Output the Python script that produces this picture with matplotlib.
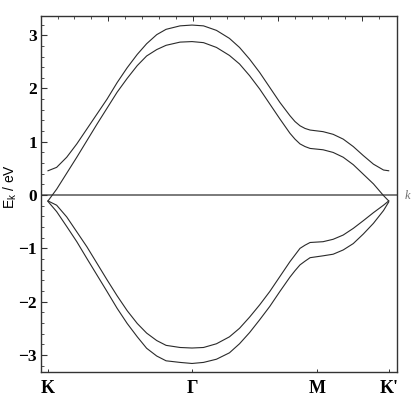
import matplotlib
matplotlib.use('Agg')
import matplotlib.pyplot as plt

# ---- data ----
k_points = [0.0, 0.06, 0.13, 0.20, 0.27, 0.34, 0.41, 0.48, 0.55, 0.62, 0.685, 0.755,
            0.82, 0.917, 1.0, 1.08, 1.17, 1.26, 1.33, 1.40, 1.47, 1.54, 1.61, 1.68,
            1.715, 1.75, 1.785, 1.82, 1.91, 1.98, 2.05, 2.12, 2.19, 2.26, 2.33, 2.366]
upper_outer = [0.456, 0.52, 0.71, 0.96, 1.24, 1.52, 1.80, 2.11, 2.39, 2.64, 2.84, 3.01,
               3.11, 3.175, 3.19, 3.175, 3.09, 2.94, 2.77, 2.55, 2.30, 2.02, 1.74, 1.49,
               1.38, 1.30, 1.25, 1.22, 1.19, 1.14, 1.05, 0.91, 0.74, 0.58, 0.47, 0.456]
upper_inner = [-0.11, 0.11, 0.41, 0.71, 1.02, 1.33, 1.63, 1.93, 2.19, 2.43, 2.61, 2.73,
               2.81, 2.87, 2.88, 2.86, 2.77, 2.62, 2.46, 2.24, 1.99, 1.71, 1.43, 1.16,
               1.05, 0.96, 0.91, 0.875, 0.85, 0.80, 0.71, 0.57, 0.39, 0.21, -0.01, -0.11]
lower_inner = [-0.11, -0.19, -0.41, -0.69, -0.97, -1.28, -1.59, -1.89, -2.17, -2.41, -2.59, -2.73,
               -2.82, -2.86, -2.87, -2.86, -2.79, -2.66, -2.50, -2.29, -2.06, -1.81, -1.53, -1.25,
               -1.125, -1.00, -0.94, -0.89, -0.875, -0.83, -0.75, -0.625, -0.48, -0.33, -0.19, -0.11]
lower_outer = [-0.12, -0.31, -0.59, -0.875, -1.19, -1.50, -1.81, -2.125, -2.41, -2.66, -2.875, -3.02,
               -3.11, -3.14, -3.16, -3.14, -3.08, -2.96, -2.79, -2.58, -2.34, -2.09, -1.81, -1.54,
               -1.42, -1.31, -1.24, -1.175, -1.14, -1.11, -1.03, -0.91, -0.73, -0.53, -0.29, -0.13]

sym_pos = [0.0, 1.0, 1.866, 2.366]
sym_labels = ['K', 'Γ', 'M', "K'"]
y_major = [-3, -2, -1, 0, 1, 2, 3]
y_major_labels = ['−3', '−2', '−1', '0', '1', '2', '3']

# ---- figure ----
W, H = 415, 404
fig = plt.figure(figsize=(W / 100, H / 100), dpi=100)
ax = fig.add_axes([41 / W, 1 - 372 / H, (397 - 41) / W, (372 - 16) / H])

line_kw = dict(color='#2a2a2a', lw=0.8, solid_joinstyle='round')
for band in (upper_outer, upper_inner, lower_inner, lower_outer):
    ax.plot(k_points, band, **line_kw)

ax.set_xlim(-0.0486, 2.4236)
ax.set_ylim(-3.32, 3.36)

# zero axis line
ax.axhline(0, color='#707070', lw=1.3, zorder=1)
fig.text(405 / W, 1 - 196 / H, 'k', family='Liberation Serif', style='italic',
         color='#707070', fontsize=9, ha='left', va='center')

# frame
for sp in ax.spines.values():
    sp.set_color('#333333')
    sp.set_linewidth(1.0)

# y ticks (left only)
ax.set_yticks(y_major)
ax.set_yticklabels(y_major_labels, family='Liberation Serif', fontweight='bold', fontsize=12.5)
ax.set_yticks([v / 5 for v in range(-16, 17) if v % 5 != 0], minor=True)
ax.tick_params(axis='y', which='major', direction='in', length=4, width=0.8,
               color='#333333', pad=3, right=False)
ax.tick_params(axis='y', which='minor', direction='in', length=2.2, width=0.6,
               color='#333333', right=False)

# x ticks: symmetry points at bottom, plain minor marks on top
ax.set_xticks(sym_pos)
ax.set_xticklabels(sym_labels, family='Liberation Serif', fontweight='bold', fontsize=13)
ax.tick_params(axis='x', which='major', direction='in', length=2.5, width=0.7,
               color='#333333', pad=6, top=False)
ax.tick_params(axis='x', which='minor', bottom=False)

top = ax.secondary_xaxis('top')
top.set_xticks([0.419 + 0.588 * i for i in range(4)])
top.set_xticks([0.066 + 0.1176 * i for i in range(20)], minor=True)
top.set_xticklabels([])
top.tick_params(which='major', direction='in', length=3.5, width=0.7, color='#333333')
top.tick_params(which='minor', direction='in', length=2, width=0.6, color='#333333')
top.spines['top'].set_visible(False)

fig.text(10 / W, 1 - 186 / H, r'E$_\mathregular{k}$ / eV', family='Liberation Sans',
         fontsize=10, rotation=90, ha='center', va='center')

fig.savefig('out.png', dpi=100)
